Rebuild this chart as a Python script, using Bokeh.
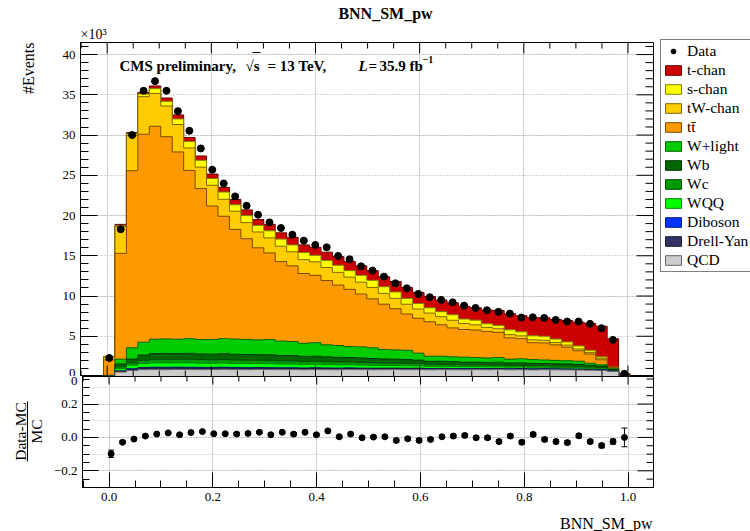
import numpy as np
from bokeh.plotting import figure
from bokeh.models import (Range1d, LinearAxis, FixedTicker, Label, Legend, LegendItem,
                          PrintfTickFormatter, Arrow, Grid)
from bokeh.layouts import column, row
from bokeh.embed import file_html
from bokeh.resources import INLINE

# ---------------- data (values in units of 10^3 events) ----------------
bin_lo, bin_hi, n_bins = -0.007, 1.004, 46

data = [2.3, 18.3, 30.0, 35.5, 36.7, 35.5, 32.97, 30.53, 28.34, 25.69,
        23.99, 22.38, 21.22, 20.1, 19.15, 18.45, 17.62, 16.88, 16.34, 16.05,
        14.98, 14.56, 13.69, 13.16, 12.41, 11.58, 10.96, 10.26, 9.85, 9.52,
        9.22, 8.81, 8.52, 8.23, 8.03, 7.82, 7.32, 7.36, 7.28, 7.03,
        6.83, 6.83, 6.54, 6.0, 4.55, 0.33]

qcd = [0.02, 0.55, 0.75, 0.85, 0.86, 0.85, 0.87, 0.86, 0.85, 0.86,
       0.88, 0.86, 0.85, 0.87, 0.86, 0.85, 0.86, 0.84, 0.86, 0.85,
       0.84, 0.86, 0.85, 0.84, 0.85, 0.86, 0.84, 0.85, 0.83, 0.85,
       0.84, 0.83, 0.85, 0.84, 0.86, 0.83, 0.85, 0.82, 0.84, 0.83,
       0.82, 0.8, 0.78, 0.75, 0.62, 0.02]
drell_yan = [0.01, 0.1, 0.15, 0.18, 0.2, 0.2, 0.2, 0.19, 0.19, 0.18,
             0.18, 0.17, 0.17, 0.17, 0.16, 0.16, 0.15, 0.15, 0.15, 0.14,
             0.14, 0.14, 0.13, 0.13, 0.13, 0.12, 0.12, 0.12, 0.11, 0.11,
             0.11, 0.1, 0.1, 0.1, 0.1, 0.09, 0.09, 0.09, 0.09, 0.08,
             0.08, 0.08, 0.07, 0.06, 0.04, 0.005]
diboson = [0.005, 0.05, 0.06, 0.08, 0.09, 0.09, 0.09, 0.09, 0.09, 0.08,
           0.08, 0.08, 0.08, 0.08, 0.08, 0.07, 0.07, 0.07, 0.07, 0.07,
           0.07, 0.07, 0.06, 0.06, 0.06, 0.06, 0.06, 0.06, 0.05, 0.05,
           0.05, 0.05, 0.05, 0.05, 0.05, 0.05, 0.05, 0.05, 0.04, 0.04,
           0.04, 0.04, 0.04, 0.03, 0.02, 0.002]
wqq = [0.02, 0.3, 0.45, 0.5, 0.55, 0.55, 0.54, 0.55, 0.53, 0.52,
       0.53, 0.51, 0.5, 0.49, 0.49, 0.47, 0.46, 0.44, 0.44, 0.42,
       0.4, 0.39, 0.38, 0.36, 0.34, 0.33, 0.32, 0.3, 0.27, 0.26,
       0.25, 0.24, 0.23, 0.22, 0.22, 0.2, 0.2, 0.19, 0.18, 0.17,
       0.17, 0.16, 0.14, 0.12, 0.06, 0.005]
wc = [0.02, 0.2, 0.3, 0.4, 0.45, 0.45, 0.45, 0.46, 0.45, 0.44,
      0.45, 0.44, 0.43, 0.42, 0.42, 0.41, 0.4, 0.38, 0.38, 0.36,
      0.35, 0.34, 0.33, 0.32, 0.3, 0.3, 0.29, 0.27, 0.24, 0.24,
      0.23, 0.22, 0.22, 0.21, 0.21, 0.2, 0.2, 0.19, 0.19, 0.18,
      0.18, 0.17, 0.15, 0.13, 0.07, 0.005]
wb = [0.02, 0.35, 0.45, 0.65, 0.7, 0.72, 0.7, 0.72, 0.7, 0.7,
      0.72, 0.7, 0.7, 0.68, 0.68, 0.66, 0.65, 0.62, 0.62, 0.6,
      0.58, 0.56, 0.55, 0.53, 0.5, 0.48, 0.47, 0.43, 0.38, 0.38,
      0.36, 0.34, 0.33, 0.32, 0.33, 0.3, 0.3, 0.29, 0.28, 0.27,
      0.27, 0.26, 0.22, 0.19, 0.08, 0.005]
wlight = [0.05, 0.6, 1.4, 1.6, 1.78, 1.8, 1.78, 1.83, 1.79, 1.82,
          1.86, 1.89, 1.87, 1.84, 1.91, 1.78, 1.75, 1.63, 1.68, 1.49,
          1.47, 1.36, 1.38, 1.32, 1.17, 1.15, 1.15, 0.87, 0.64, 0.63,
          0.61, 0.62, 0.57, 0.56, 0.58, 0.48, 0.51, 0.47, 0.43, 0.43,
          0.39, 0.39, 0.25, 0.17, 0.06, 0.01]
ttbar = [1.92, 13.15, 22.01, 25.84, 26.46, 25.14, 23.27, 20.9, 18.75, 16.58,
         15.21, 13.63, 12.52, 11.44, 10.75, 9.88, 9.41, 8.67, 8.37, 7.99,
         7.51, 7.11, 6.57, 6.09, 5.63, 5.12, 4.51, 4.34, 4.28, 3.91,
         3.59, 3.44, 3.42, 3.3, 3.13, 2.65, 2.5, 2.1, 2.12, 1.93,
         1.7, 1.3, 1.15, 0.62, 0.15, 0.02]
tw_chan = [0.38, 3.35, 4.38, 4.67, 4.08, 3.81, 3.4, 2.8, 2.66, 2.58,
           2.11, 2.26, 2.0, 1.97, 1.87, 1.91, 1.75, 1.72, 1.68, 1.62,
           1.58, 1.52, 1.47, 1.42, 1.35, 1.28, 1.22, 1.15, 1.08, 1.0,
           0.95, 0.75, 0.65, 0.5, 0.45, 0.4, 0.35, 0.35, 0.33, 0.3,
           0.25, 0.22, 0.2, 0.2, 0.05, 0.0]
s_chan = [0.02, 0.1, 0.2, 0.33, 0.6, 0.58, 0.7, 0.8, 0.85, 0.85,
          0.9, 0.8, 0.88, 0.8, 0.88, 0.88, 0.85, 0.88, 0.8, 0.88,
          0.88, 0.8, 0.85, 0.88, 0.82, 0.8, 0.72, 0.68, 0.65, 0.62,
          0.68, 0.55, 0.58, 0.45, 0.42, 0.6, 0.5, 0.5, 0.5, 0.42,
          0.4, 0.38, 0.25, 0.18, 0.03, 0.0]
t_chan = [0.03, 0.15, 0.15, 0.2, 0.33, 0.41, 0.5, 0.5, 0.54, 0.54,
          0.58, 0.66, 0.7, 0.74, 0.8, 0.78, 0.95, 0.95, 1.0, 1.03,
          1.08, 1.15, 1.18, 1.2, 1.25, 1.3, 1.35, 1.38, 1.42, 1.45,
          1.48, 1.58, 1.55, 1.7, 1.85, 2.0, 2.0, 2.25, 2.3, 2.45,
          2.65, 2.95, 3.35, 3.8, 3.5, 0.26]

ratio = [-0.098, -0.029, -0.01, 0.008, 0.02, 0.027, 0.016, 0.029, 0.035, 0.022,
         0.022, 0.02, 0.024, 0.031, 0.016, 0.031, 0.02, 0.031, 0.016, 0.039,
         0.004, 0.02, -0.002, 0.002, 0.004, -0.018, -0.008, -0.018, -0.012, 0.004,
         0.008, 0.012, -0.002, -0.002, -0.025, 0.008, -0.029, 0.018, -0.012, -0.025,
         -0.031, 0.01, -0.025, -0.049, -0.025, 0.0]
ratio_err = [0.022, 0.008, 0.006, 0.005, 0.005, 0.005, 0.006, 0.006, 0.006, 0.006,
             0.007, 0.007, 0.007, 0.007, 0.007, 0.007, 0.008, 0.008, 0.008, 0.008,
             0.008, 0.008, 0.009, 0.009, 0.009, 0.009, 0.01, 0.01, 0.01, 0.01,
             0.01, 0.011, 0.011, 0.011, 0.011, 0.011, 0.012, 0.012, 0.012, 0.012,
             0.012, 0.012, 0.012, 0.013, 0.015, 0.056]

# stack order bottom -> top
stack_names = ["QCD", "Drell-Yan", "Diboson", "WQQ", "Wc", "Wb", "W+light",
               "tt\u0304", "tW-chan", "s-chan", "t-chan"]
stack_values = [qcd, drell_yan, diboson, wqq, wc, wb, wlight, ttbar, tw_chan, s_chan, t_chan]
fill_colors = ["#cccccc", "#333366", "#0033ff", "#00ff00", "#009900", "#006600",
               "#00cc00", "#ff9900", "#ffcc00", "#ffff00", "#cc0000"]
line_colors = ["#666666", "#1a1a33", "#001a80", "#008000", "#004c00", "#003300",
               "#006600", "#7a4a00", "#806600", "#808000", "#660000"]
legend_order = ["t-chan", "s-chan", "tW-chan", "tt\u0304", "W+light", "Wb", "Wc",
                "WQQ", "Diboson", "Drell-Yan", "QCD"]

y_ticks = [0, 5, 10, 15, 20, 25, 30, 35, 40]
y_minor = [v for v in range(0, 42) if v % 5 != 0]
x_ticks = [0.0, 0.2, 0.4, 0.6, 0.8, 1.0]
x_minor = [round(-0.05 + 0.05 * i, 2) for i in range(23) if i % 4 != 1]
r_ticks = [-0.2, 0, 0.2]
r_minor = [-0.3, -0.25, -0.15, -0.1, -0.05, 0.05, 0.1, 0.15, 0.25, 0.3, 0.35]

FONT = "Liberation Serif"
FRAME_W, P1_H, P2_H = 573, 334, 111
edges = np.linspace(bin_lo, bin_hi, n_bins + 1)
centers = 0.5 * (edges[:-1] + edges[1:])
cum = np.cumsum(np.array(stack_values), axis=0)
xs_step = np.repeat(edges, 2)
step_ys = [np.concatenate([[0.0], np.repeat(cum[i], 2), [0.0]]) for i in range(len(stack_values))]

X0, X1 = -0.0512, 1.049
x_range = Range1d(X0, X1)


def no_align(p):
    try:
        p.frame_align = False
    except Exception:
        pass


def label_axis(p, side, ticks, minor, tin, min_in, fmt=None, overrides=None):
    ax = LinearAxis(ticker=FixedTicker(ticks=ticks, minor_ticks=minor))
    ax.axis_line_color = "black"
    ax.major_tick_line_color = "black"
    ax.minor_tick_line_color = "black"
    ax.major_tick_out = 0
    ax.minor_tick_out = 0
    ax.major_tick_in = tin
    ax.minor_tick_in = min_in
    ax.major_label_text_font = FONT
    ax.major_label_text_font_size = "13px"
    ax.major_label_text_color = "black"
    ax.major_label_standoff = 5
    if fmt is not None:
        ax.formatter = fmt
    if overrides is not None:
        ax.major_label_overrides = overrides
    p.add_layout(ax, side)


def edge_ticks(p, yr, frame_h, side, positions, length):
    # tick marks on the frame edges without labels (top, bottom, right)
    pos = np.array(positions, dtype=float)
    y0, y1 = yr
    dy = (y1 - y0) / frame_h * length
    dx = (X1 - X0) / FRAME_W * length
    if side == "above":
        p.segment(pos, y1, pos, y1 - dy, line_color="black", line_width=1)
    elif side == "below":
        p.segment(pos, y0, pos, y0 + dy, line_color="black", line_width=1)
    else:
        p.segment(X1, pos, X1 - dx, pos, line_color="black", line_width=1)


def add_grid(p, dim, ticks):
    g = Grid(dimension=dim, ticker=FixedTicker(ticks=ticks))
    g.grid_line_color = "#aaaaaa"
    g.grid_line_dash = "1 2"
    g.grid_line_width = 1
    p.add_layout(g)


def lab(p, x, y, text, size, style="normal", align="left", baseline="alphabetic", angle=0.0):
    p.add_layout(Label(x=x, y=y, x_units="screen", y_units="screen", text=text,
                       text_font=FONT, text_font_size=size, text_font_style=style,
                       text_align=align, text_baseline=baseline, angle=angle,
                       text_color="black"))


def strip(w, h, bl=0, br=0, xr=(0, 1)):
    s = figure(width=w, height=h, x_range=Range1d(*xr), y_range=Range1d(0, 1),
               output_backend="svg", toolbar_location=None,
               x_axis_location=None, y_axis_location=None, min_border=0,
               min_border_left=bl, min_border_right=br)
    no_align(s)
    s.outline_line_color = None
    s.grid.visible = False
    s.background_fill_color = "white"
    s.border_fill_color = "white"
    return s


# ---------------- text strips ----------------
top = strip(604, 41, 30, 1)
lab(top, 305, 28, "BNN_SM_pw", "16px", "bold", "center", "middle")
lab(top, 0, 0, "\u00d710\u00b3", "14px", "normal", "left", "bottom")

left = strip(50, 531)
lab(left, 28, 489, "#Events", "16px", "normal", "right", "middle", np.pi / 2)
lab(left, 20, 100, "Data-MC", "15.5px", "normal", "center", "middle", np.pi / 2)
lab(left, 36, 100, "MC", "15.5px", "normal", "center", "middle", np.pi / 2)
left.add_layout(Arrow(x_start=27, y_start=130, x_end=27, y_end=70,
                      start_units="screen", end_units="screen", end=None,
                      line_color="black", line_width=1))

bottom = strip(604, 24, 30, 1)
lab(bottom, 572, 8, "BNN_SM_pw", "16px", "normal", "right")

# ---------------- upper pad ----------------
p1 = figure(width=604, height=335, x_range=x_range, y_range=Range1d(0, 41.5),
            output_backend="svg", toolbar_location=None,
            x_axis_location=None, y_axis_location=None,
            min_border_left=30, min_border_right=1, min_border_top=1, min_border_bottom=0)
no_align(p1)
p1.outline_line_color = "black"
p1.background_fill_color = "white"
p1.border_fill_color = "white"
add_grid(p1, 0, x_ticks)
add_grid(p1, 1, y_ticks)
label_axis(p1, "left", y_ticks, y_minor, 17, 8)

for i in reversed(range(len(stack_values))):
    p1.patch(xs_step, step_ys[i], fill_color=fill_colors[i], line_color=line_colors[i],
             line_width=1)

p1.scatter(centers, data, size=7, marker="circle", fill_color="black", line_color="black")

edge_ticks(p1, (0, 41.5), P1_H, "above", x_ticks, 11)
edge_ticks(p1, (0, 41.5), P1_H, "above", x_minor, 6)
edge_ticks(p1, (0, 41.5), P1_H, "below", x_ticks, 11)
edge_ticks(p1, (0, 41.5), P1_H, "below", x_minor, 6)
edge_ticks(p1, (0, 41.5), P1_H, "right", y_ticks, 17)
edge_ticks(p1, (0, 41.5), P1_H, "right", y_minor, 8)

lab(p1, 39, 311, "CMS preliminary,", "15px", "bold")
lab(p1, 165, 311, "\u221as", "15px", "bold")
lab(p1, 187, 311, "= 13 TeV,", "15px", "bold")
lab(p1, 278, 311, "L", "15px", "bold italic")
lab(p1, 288, 311, "=", "15px", "bold")
lab(p1, 299, 311, "35.9 fb", "15px", "bold")
lab(p1, 342, 317, "\u22121", "10px", "bold")
p1.add_layout(Arrow(x_start=172, y_start=324, x_end=180, y_end=324,
                    start_units="screen", end_units="screen", end=None,
                    line_color="black", line_width=1))

# ---------------- legend strip (its glyphs lie outside the strip's x range) ----------------
right = strip(96, 531, xr=(2, 3))
items = [LegendItem(label="Data", renderers=[
    right.scatter(centers, data, size=5, marker="circle", fill_color="black", line_color="black")])]
for nm in legend_order:
    k = stack_names.index(nm)
    items.append(LegendItem(label=nm, renderers=[
        right.patch(xs_step, step_ys[k], fill_color=fill_colors[k], line_color=line_colors[k],
                    line_width=1)]))
legend = Legend(items=items, location=(6, 259), orientation="vertical")
legend.label_text_font = FONT
legend.label_text_font_size = "15.5px"
legend.label_text_color = "black"
legend.label_height = 17
legend.glyph_height = 12
legend.glyph_width = 20
legend.spacing = 1
legend.padding = 2
legend.margin = 0
legend.label_standoff = 4
legend.border_line_color = "black"
legend.border_line_width = 1
legend.background_fill_color = "white"
legend.background_fill_alpha = 1.0
right.add_layout(legend, "center")

# ---------------- lower pad ----------------
p2 = figure(width=604, height=131, x_range=x_range, y_range=Range1d(-0.3, 0.365),
            output_backend="svg", toolbar_location=None,
            x_axis_location=None, y_axis_location=None,
            min_border_left=30, min_border_right=1, min_border_top=0, min_border_bottom=20)
no_align(p2)
p2.outline_line_color = "black"
p2.background_fill_color = "white"
p2.border_fill_color = "white"
add_grid(p2, 0, x_ticks)
add_grid(p2, 1, r_ticks)
# the extra top tick carries the lower half of the upper pad's "0" label
label_axis(p2, "left", r_ticks + [0.365], r_minor, 16, 7,
           overrides={-0.2: "\u22120.2", 0: "0.0", 0.2: "0.2", 0.365: "0"})
label_axis(p2, "below", x_ticks, x_minor, 15, 7, fmt=PrintfTickFormatter(format="%.1f"))
edge_ticks(p2, (-0.3, 0.365), P2_H, "above", x_ticks, 8)
edge_ticks(p2, (-0.3, 0.365), P2_H, "above", x_minor, 5)
edge_ticks(p2, (-0.3, 0.365), P2_H, "right", r_ticks, 16)
edge_ticks(p2, (-0.3, 0.365), P2_H, "right", r_minor, 7)

r_arr = np.array(ratio)
e_arr = np.array(ratio_err)
p2.segment(centers, r_arr - e_arr, centers, r_arr + e_arr, line_color="black", line_width=1)
p2.scatter(centers, r_arr + e_arr, marker="dash", size=6, line_color="black")
p2.scatter(centers, r_arr - e_arr, marker="dash", size=6, line_color="black")
p2.scatter(centers, r_arr, size=6, marker="circle", fill_color="black", line_color="black")

layout = row(left, column(top, p1, p2, bottom), right)
open("out.html", "w").write(file_html(layout, INLINE))
